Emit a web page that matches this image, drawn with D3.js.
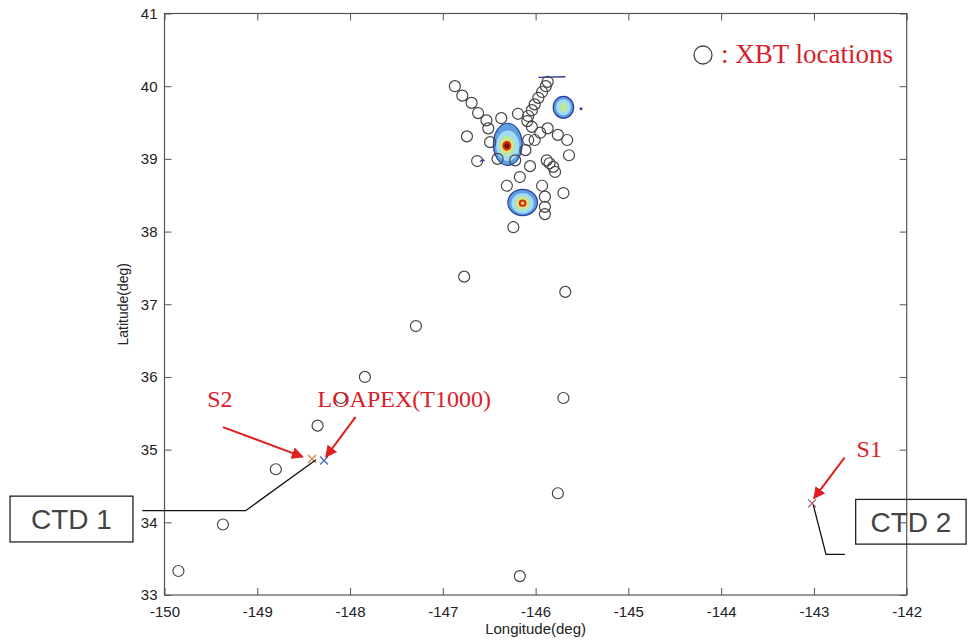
<!DOCTYPE html>
<html><head><meta charset="utf-8">
<script src="https://cdn.jsdelivr.net/npm/d3@7"></script>
<style>
body{margin:0;background:#fff;}
svg{display:block;}
.tick text{font-family:"Liberation Sans",Arial,sans-serif;font-size:15px;fill:#222;}
</style></head><body>
<svg id="c" width="969" height="641"></svg>
<script>
// ---------- data ----------
const xTicks = [-150,-149,-148,-147,-146,-145,-144,-143,-142];
const yTicks = [33,34,35,36,37,38,39,40,41];
// XBT locations [lon, lat]
const xbtLon = [-149.85,-149.37,-148.80,-148.35,-148.10,-147.84,-147.29,-146.77,-145.68,-145.70,-145.76,-146.17,
  -146.87,-146.79,-146.69,-146.62,-146.53,-146.51,-146.74,-146.37,-146.19,-145.87,-145.89,-145.93,-145.97,-146.01,
  -146.04,-146.08,-146.09,-146.04,-145.95,-145.87,-146.01,-146.08,-145.76,-145.66,-145.64,-145.88,-145.85,-145.81,
  -145.79,-146.63,-146.41,-146.22,-146.11,-146.06,-146.17,-146.31,-145.93,-145.90,-145.90,-145.90,-145.70,-146.24,-146.49];
const xbtLat = [33.33,33.97,34.73,35.33,35.71,36.00,36.70,37.38,37.17,35.71,34.40,33.26,
  40.00,39.87,39.77,39.63,39.53,39.42,39.31,39.56,39.62,40.06,40.00,39.92,39.84,39.75,
  39.67,39.59,39.52,39.44,39.36,39.42,39.26,39.26,39.33,39.26,39.05,38.98,38.94,38.89,
  38.82,38.97,39.00,38.98,39.12,38.90,38.75,38.63,38.63,38.48,38.34,38.24,38.53,38.06,39.23];
// stations: name, lon, lat, colour
const stations = [
  {name:"S2", lon:-148.41, lat:34.87, color:"#d08a50"},
  {name:"LOAPEX", lon:-148.28, lat:34.85, color:"#4a62c8"},
  {name:"S1", lon:-143.02, lat:34.26, color:"#9a5a78"}
];
// contour blobs: [lon, lat, radiusLon, radiusLat, level]
const contourBlobs = [
  [-146.30,39.20,0.155,0.290,0],[-146.30,39.18,0.125,0.210,1],[-146.31,39.18,0.085,0.140,2],
  [-146.31,39.18,0.065,0.095,3],[-146.31,39.18,0.048,0.068,4],[-146.31,39.18,0.027,0.035,5],
  [-146.14,38.40,0.160,0.180,0],[-146.14,38.39,0.120,0.140,1],[-146.14,38.39,0.085,0.100,2],
  [-146.14,38.39,0.060,0.070,3],[-146.14,38.39,0.042,0.050,4],[-146.14,38.39,0.018,0.022,3],
  [-145.70,39.71,0.110,0.150,0],[-145.70,39.71,0.080,0.110,1],[-145.70,39.71,0.045,0.065,2]
];
const levelColors = ["#5f9fe0","#a2dcf2","#b9e6a0","#f0e070","#d0301a","#7a1000"];
// small contour fragments (lon/lat polylines)
const fragLon = [[-145.97,-145.68],[-146.60,-146.57,-146.55]];
const fragLat = [[40.12,40.13],[38.96,38.99,38.97]];
const dotFrag = [-145.51,39.69];
// annotations
const labels = [
  {text:"S2", lon:-149.54, lat:35.59},
  {text:"LOAPEX(T1000)", lon:-148.35, lat:35.59},
  {text:"S1", lon:-142.54, lat:34.90}
];
const arrows = [
  {x1:-149.37,y1:35.31,x2:-148.51,y2:34.90},
  {x1:-147.94,y1:35.45,x2:-148.26,y2:34.90},
  {x1:-142.67,y1:34.89,x2:-143.00,y2:34.33}
];
const ctdLines = [
  {lon:[-150.24,-149.125,-148.367], lat:[34.16,34.16,34.86]},
  {lon:[-143.007,-142.87,-142.666], lat:[34.24,33.56,33.56]}
];
const ctdBoxes = [
  {text:"CTD 1", lon0:-151.665, lon1:-150.34, lat0:34.36, lat1:33.73},
  {text:"CTD 2", lon0:-142.55, lon1:-141.36, lat0:34.315, lat1:33.70}
];

// ---------- drawing ----------
const svg = d3.select("#c");
const L=164.5, R=906.7, T=13.5, B=595;
const x = d3.scaleLinear().domain([-150,-142]).range([L,R]);
const y = d3.scaleLinear().domain([33,41]).range([B,T]);
const axisCol = "#555";
const fmt = d => String(d);

// contours
const cg = svg.append("g");
contourBlobs.forEach(b=>{
  cg.append("ellipse")
    .attr("cx",x(b[0])).attr("cy",y(b[1]))
    .attr("rx",x(b[0]+b[2])-x(b[0])).attr("ry",y(b[1])-y(b[1]+b[3]))
    .attr("fill",levelColors[b[4]])
    .attr("stroke",b[4]===0?"#2a3c9c":"none").attr("stroke-width",1.2);
});
fragLon.forEach((fl,i)=>{
  cg.append("path").attr("d",d3.line()(fl.map((v,j)=>[x(v),y(fragLat[i][j])])))
    .attr("fill","none").attr("stroke","#2a3c9c").attr("stroke-width",1.3);
});
cg.append("circle").attr("cx",x(dotFrag[0])).attr("cy",y(dotFrag[1])).attr("r",1.5).attr("fill","#2a3c9c");

// XBT circles
svg.append("g").selectAll("circle").data(xbtLon).join("circle")
  .attr("cx",d=>x(d)).attr("cy",(d,i)=>y(xbtLat[i])).attr("r",5.5)
  .attr("fill","none").attr("stroke","#444").attr("stroke-width",1.2);

// station crosses
const sg = svg.append("g");
stations.forEach(s=>{
  const cx=x(s.lon), cy=y(s.lat), h=4;
  sg.append("path").attr("d",`M${cx-h},${cy-h}L${cx+h},${cy+h}M${cx-h},${cy+h}L${cx+h},${cy-h}`)
    .attr("stroke",s.color).attr("stroke-width",1.3);
});

// axes
svg.append("g").attr("transform",`translate(0,${B})`)
  .call(d3.axisBottom(x).tickValues(xTicks).tickSize(-7).tickPadding(11).tickFormat(fmt))
  .call(g=>{g.select(".domain").remove();g.selectAll("line").attr("stroke",axisCol);});
svg.append("g").attr("transform",`translate(0,${T})`)
  .call(d3.axisTop(x).tickValues(xTicks).tickSize(-7).tickFormat(""))
  .call(g=>{g.select(".domain").remove();g.selectAll("line").attr("stroke",axisCol);});
svg.append("g").attr("transform",`translate(${L},0)`)
  .call(d3.axisLeft(y).tickValues(yTicks).tickSize(-7).tickPadding(7).tickFormat(fmt))
  .call(g=>{g.select(".domain").remove();g.selectAll("line").attr("stroke",axisCol);});
svg.append("g").attr("transform",`translate(${R},0)`)
  .call(d3.axisRight(y).tickValues(yTicks).tickSize(-7).tickFormat(""))
  .call(g=>{g.select(".domain").remove();g.selectAll("line").attr("stroke",axisCol);});
svg.append("rect").attr("x",L).attr("y",T).attr("width",R-L).attr("height",B-T)
  .attr("fill","none").attr("stroke",axisCol).attr("stroke-width",1.2);

// axis titles
svg.append("text").attr("x",(L+R)/2).attr("y",634).attr("text-anchor","middle")
  .attr("font-family","Liberation Sans, Arial, sans-serif").attr("font-size",15).attr("fill","#222")
  .text("Longitude(deg)");
svg.append("text").attr("transform",`translate(128,${(T+B)/2}) rotate(-90)`).attr("text-anchor","middle")
  .attr("font-family","Liberation Sans, Arial, sans-serif").attr("font-size",14).attr("fill","#222")
  .text("Latitude(deg)");

// legend
svg.append("circle").attr("cx",703).attr("cy",55).attr("r",9).attr("fill","none").attr("stroke","#444").attr("stroke-width",1.3);
svg.append("text").attr("x",721).attr("y",63).attr("font-family","Liberation Serif, Times New Roman, serif")
  .attr("font-size",27).attr("fill","#d8202a").text(": XBT locations");

// arrows
const defs = svg.append("defs");
defs.append("marker").attr("id","ah").attr("viewBox","0 0 10 10").attr("refX",9).attr("refY",5)
  .attr("markerWidth",6).attr("markerHeight",6).attr("orient","auto-start-reverse").attr("markerUnits","strokeWidth")
  .append("path").attr("d","M0,0L10,5L0,10z").attr("fill","#e02020");
arrows.forEach(a=>{
  svg.append("line").attr("x1",x(a.x1)).attr("y1",y(a.y1)).attr("x2",x(a.x2)).attr("y2",y(a.y2))
    .attr("stroke","#e02020").attr("stroke-width",2).attr("marker-end","url(#ah)");
});
labels.forEach(l=>{
  svg.append("text").attr("x",x(l.lon)).attr("y",y(l.lat))
    .attr("font-family","Liberation Serif, Times New Roman, serif").attr("font-size",24)
    .attr("fill","#d8202a").text(l.text);
});

// CTD leader lines and boxes
ctdLines.forEach(c=>{
  svg.append("path").attr("d",d3.line()(c.lon.map((v,j)=>[x(v),y(c.lat[j])])))
    .attr("fill","none").attr("stroke","#111").attr("stroke-width",1.3);
});
ctdBoxes.forEach(b=>{
  const x0=x(b.lon0), x1=x(b.lon1), y0=y(b.lat0), y1=y(b.lat1);
  svg.append("rect").attr("x",x0).attr("y",y0).attr("width",x1-x0).attr("height",y1-y0)
    .attr("fill","none").attr("stroke","#222").attr("stroke-width",1.3);
  svg.append("text").attr("x",(x0+x1)/2).attr("y",(y0+y1)/2+10).attr("text-anchor","middle")
    .attr("font-family","Liberation Sans, Arial, sans-serif").attr("font-size",28).attr("font-weight",300)
    .attr("fill","#444").text(b.text);
});
</script></body></html>
